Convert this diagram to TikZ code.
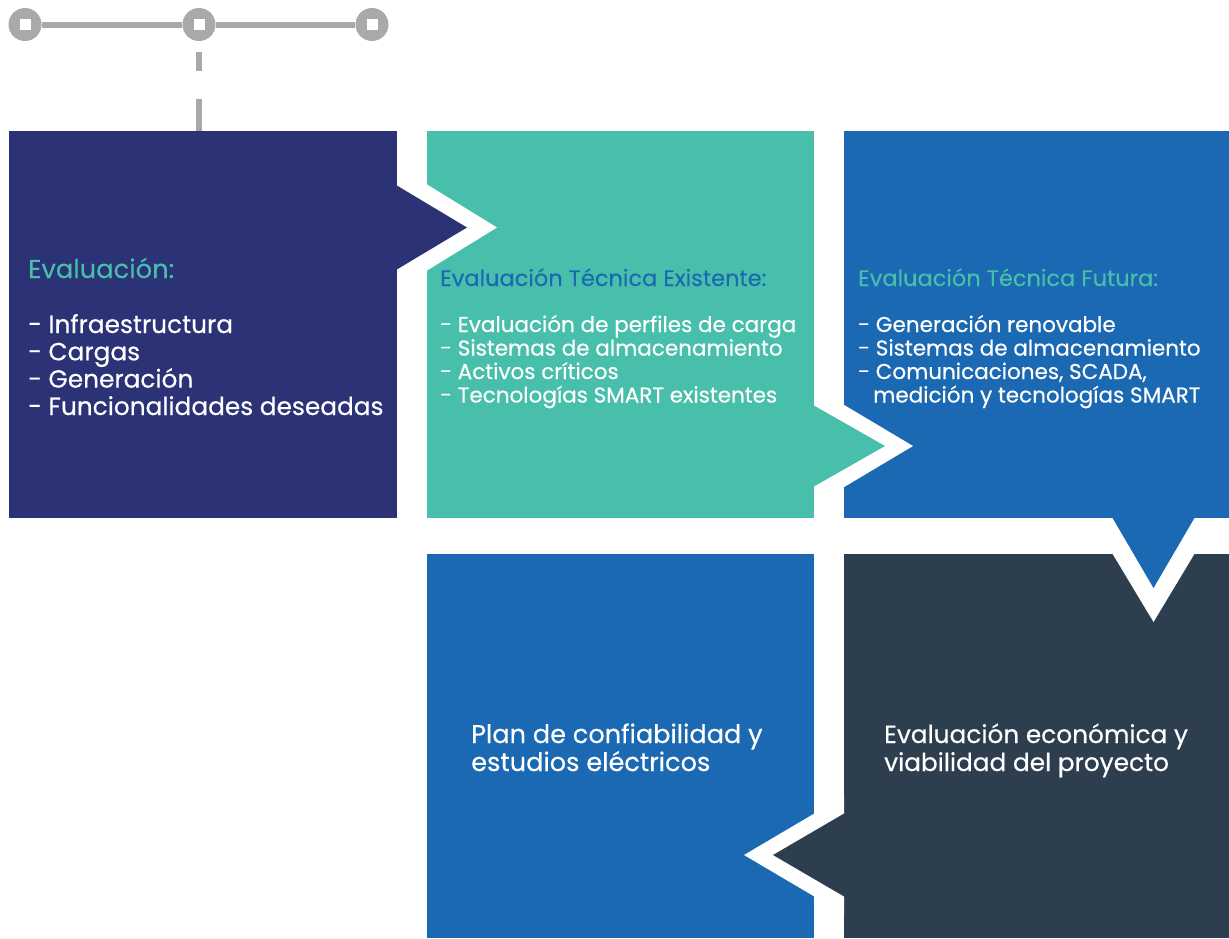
\documentclass[tikz,border=0pt]{standalone}
\usepackage{fontspec}
\setmainfont{Poppins}
\newfontfamily\tfont{Poppins}[FakeBold=0.4]
\newfontfamily\hfont{Poppins}[FakeBold=0.15]
\definecolor{navy}{HTML}{2B3275}
\definecolor{teal}{HTML}{48BFAA}
\definecolor{mblue}{HTML}{1B69B2}
\definecolor{slate}{HTML}{2D3E4F}
\definecolor{sgray}{HTML}{A7A9AA}
\tikzset{
  box/.style={anchor=north west, inner sep=0pt, outer sep=0pt, minimum width=#1, draw=none},
  bigtxt/.style={anchor=base west, inner sep=0pt, font=\tfont\fontsize{24.8}{28}\selectfont, text=white},
  smalltxt/.style={anchor=base west, inner sep=0pt, font=\tfont\fontsize{21.5}{24}\selectfont, text=white},
  bighead/.style={anchor=base west, inner sep=0pt, font=\hfont\fontsize{25.8}{28}\selectfont},
  smallhead/.style={anchor=base west, inner sep=0pt, font=\hfont\fontsize{22.5}{24}\selectfont},
  knob/.style={circle, fill=sgray, minimum size=33pt, inner sep=0pt},
  knobsq/.style={fill=white, minimum size=11pt, inner sep=0pt},
}
\begin{document}
\begin{tikzpicture}[x=1pt,y=-1pt]
\useasboundingbox (0,0) rectangle (1229,938);
% boxes
\node[box=388pt, minimum height=387pt, fill=navy] (b1) at (9,131) {};
\node[box=387pt, minimum height=387pt, fill=teal] (b2) at (427,131) {};
\node[box=385pt, minimum height=387pt, fill=mblue] (b3) at (844,131) {};
\node[box=387pt, minimum height=384pt, fill=mblue] (b4) at (427,554) {};
\node[box=385pt, minimum height=384pt, fill=slate] (b5) at (844,554) {};
% arrows (white border then colour)
\fill[white] (397,166) -- (497,227.5) -- (397,289) -- cycle;
\fill[navy] (396,185) -- (467,227.5) -- (396,270) -- cycle;
\fill[white] (814,387) -- (913,446) -- (814,505) -- cycle;
\fill[teal] (813,405) -- (885,446) -- (813,487) -- cycle;
\fill[white] (1091,518) -- (1153.5,622) -- (1216,518) -- cycle;
\fill[mblue] (1112,517) -- (1153.5,588) -- (1195,517) -- cycle;
\fill[white] (844,796) -- (744,855) -- (844,914) -- cycle;
\fill[slate] (845,813) -- (773,855) -- (845,897) -- cycle;
% slider
\node[knob] (k1) at (25,24.5) {};
\node[knob] (k2) at (199,24.5) {};
\node[knob] (k3) at (372,24.5) {};
\draw[sgray, line width=6pt] (k1) -- (k2) (k2) -- (k3);
\node[knobsq] (s1) at (k1) {};
\node[knobsq] (s2) at (k2) {};
\node[knobsq] (s3) at (k3) {};
\coordinate (d1) at (199,52);
\coordinate (d2) at (199,71);
\coordinate (d3) at (199,99);
\draw[sgray, line width=6pt] (d1) -- (d2) (d3) -- (b1.north west -| d3);
% box 1 texts
\node[bighead, text=teal] (t1) at (28,278) {Evaluación:};
\node[bigtxt] (l1a) at (28,333) {- Infraestructura};
\node[bigtxt] (l1b) at (28,360.3) {- Cargas};
\node[bigtxt] (l1c) at (28,387.6) {- Generación};
\node[bigtxt] (l1d) at (28,415) {- Funcionalidades deseadas};
% box 2 texts
\node[smallhead, text=mblue] (t2) at (440,286) {Evaluación Técnica Existente:};
\node[smalltxt] (l2a) at (440,332) {- Evaluación de perfiles de carga};
\node[smalltxt] (l2b) at (440,355.5) {- Sistemas de almacenamiento};
\node[smalltxt] (l2c) at (440,379) {- Activos críticos};
\node[smalltxt] (l2d) at (440,402.5) {- Tecnologías SMART existentes};
% box 3 texts
\node[smallhead, text=teal] (t3) at (858,286) {Evaluación Técnica Futura:};
\node[smalltxt] (l3a) at (858,332) {- Generación renovable};
\node[smalltxt] (l3b) at (858,355.5) {- Sistemas de almacenamiento};
\node[smalltxt] (l3c) at (858,379) {- Comunicaciones, SCADA,};
\node[smalltxt] (l3d) at (873,402.5) {medición y tecnologías SMART};
% box 4 and 5 texts
\node[bigtxt, font=\tfont\fontsize{25.6}{28}\selectfont] (t4a) at (471,743) {Plan de confiabilidad y};
\node[bigtxt, font=\tfont\fontsize{25.6}{28}\selectfont] (t4b) at (471,771) {estudios eléctricos};
\node[bigtxt] (t5a) at (884,743) {Evaluación económica y};
\node[bigtxt] (t5b) at (884,771) {viabilidad del proyecto};
\end{tikzpicture}
\end{document}
